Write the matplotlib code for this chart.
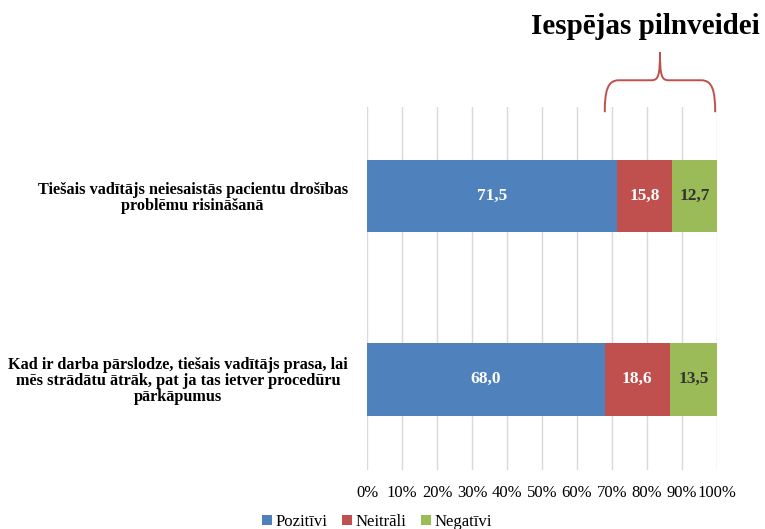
"""Stacked 100% bar chart: direct manager & patient safety (Latvian survey)."""

import matplotlib

matplotlib.use("Agg")
import matplotlib.pyplot as plt
from matplotlib.patches import PathPatch
from matplotlib.path import Path
from matplotlib.transforms import blended_transform_factory

# top-to-bottom order as drawn
QUESTIONS = [
    "Tiešais vadītājs neiesaistās pacientu drošības\nproblēmu risināšanā",
    "Kad ir darba pārslodze, tiešais vadītājs prasa, lai\n"
    "mēs strādātu ātrāk, pat ja tas ietver procedūru\npārkāpumus",
]
SERIES = ["Pozitīvi", "Neitrāli", "Negatīvi"]
POSITIVE = [71.5, 68.0]
NEUTRAL = [15.8, 18.6]
NEGATIVE = [12.7, 13.5]
XTICKS = [0, 10, 20, 30, 40, 50, 60, 70, 80, 90, 100]
TITLE = "Iespējas pilnveidei"

COLORS = ("#4F81BD", "#C0504D", "#9BBB59")
LABEL_COLORS = ("white", "white", "#333333")
SERIF = "Liberation Serif"

plt.rcParams["font.family"] = [SERIF, "DejaVu Serif"]

fig = plt.figure(figsize=(7.65, 5.29), dpi=100)
ax = fig.add_axes([0.480, 0.1115, 0.4567, 0.686])

ypos = [1, 0]
left = [0.0, 0.0]
for name, vals, color, tcolor in zip(SERIES, (POSITIVE, NEUTRAL, NEGATIVE), COLORS, LABEL_COLORS):
    bars = ax.barh(ypos, vals, height=0.395, left=left, color=color, label=name, zorder=2)
    for bar, v in zip(bars, vals):
        ax.text(
            bar.get_x() + bar.get_width() / 2,
            bar.get_y() + bar.get_height() / 2,
            f"{v:.1f}".replace(".", ","),
            ha="center",
            va="center",
            color=tcolor,
            fontsize=12.5,
            fontweight="bold",
            zorder=3,
        )
    left = [a + b for a, b in zip(left, vals)]

ax.set_xlim(0, 100)
ax.set_ylim(-0.495, 1.486)
ax.set_xticks(XTICKS)
ax.set_xticklabels([f"{t}%" for t in XTICKS], fontsize=12)
ax.set_yticks(ypos)
ax.set_yticklabels(QUESTIONS, fontsize=11.7, fontweight="bold",
                   multialignment="center", linespacing=1.0)
ax.tick_params(axis="both", length=0)
ax.tick_params(axis="x", pad=11)
ax.tick_params(axis="y", pad=14)
ax.grid(axis="x", color="#D9D9D9", linewidth=1.0, zorder=0)
ax.set_axisbelow(True)
for spine in ax.spines.values():
    spine.set_visible(False)

# curly brace over the non-positive share of the second question
x0 = POSITIVE[1]
x1 = 99.6
mid = (x0 + x1) / 2
yb, yh, yp = 0.986, 1.074, 1.152
trans = blended_transform_factory(ax.transData, ax.transAxes)
verts = [
    (x0, yb), (x0, 1.045), (x0 + 0.8, yh), (x0 + 4, yh),
    (mid - 2.5, yh),
    (mid - 0.5, yh), (mid, 1.085), (mid, yp),
    (mid, 1.085), (mid + 0.5, yh), (mid + 2.5, yh),
    (x1 - 4, yh),
    (x1 - 0.8, yh), (x1, 1.045), (x1, yb),
]
codes = [Path.MOVETO] + [Path.CURVE4] * 3 + [Path.LINETO] + [Path.CURVE4] * 6 + [Path.LINETO] + [Path.CURVE4] * 3
brace = PathPatch(Path(verts, codes), facecolor="none", edgecolor="#C0504D",
                  linewidth=1.4, transform=trans, clip_on=False)
ax.add_patch(brace)

fig.text(645 / 765, 1 - 26 / 529, TITLE, ha="center", va="center",
         fontsize=21, fontweight="bold")

fig.legend(
    loc="center",
    bbox_to_anchor=(377 / 765, 1 - 522 / 529),
    ncol=3,
    frameon=False,
    fontsize=12,
    handlelength=0.6,
    handleheight=0.6,
    handletextpad=0.2,
    columnspacing=0.9,
)

fig.savefig("out.png", dpi=100)
